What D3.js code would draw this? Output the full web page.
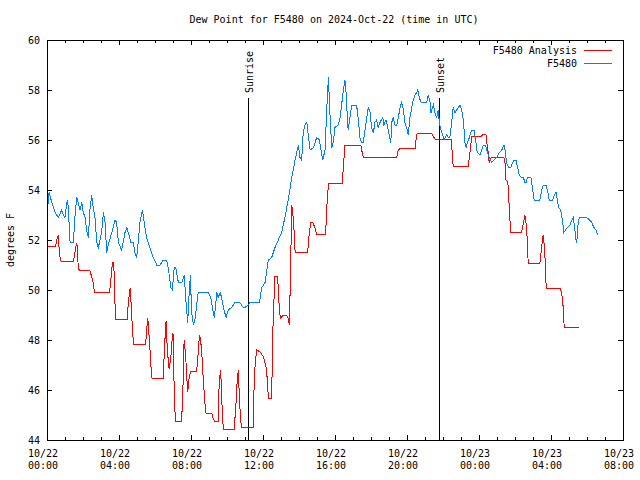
<!DOCTYPE html>
<html>
<head>
<meta charset="utf-8">
<script src="https://cdn.jsdelivr.net/npm/d3@7"></script>
<style>
html,body{margin:0;padding:0;background:#fff;}
svg{display:block;}
text{font-family:"DejaVu Sans Mono","Liberation Mono",monospace;font-size:10px;fill:#000;}
</style>
</head>
<body>
<svg id="chart" width="640" height="480"></svg>
<script>
// ---- data (minutes since 2024-10-22 00:00 UTC, degrees F) ----
const titleText = "Dew Point for F5480 on 2024-Oct-22 (time in UTC)";
const yLabel = "degrees F";
const seriesNames = ["F5480 Analysis", "F5480"];
const yTicks = [44, 46, 48, 50, 52, 54, 56, 58, 60];
const sunriseMin = 671;   // 11:11 UTC
const sunsetMin = 1308;   // 21:48 UTC

const stationMin = [0,7,16,27,38,49,54,60,66,69,73,77,88,93,99,104,110,116,121,127,132,138,143,149,154,160,166,171,177,182,188,193,199,204,216,227,232,238,249,260,266,271,280,288,293,299,304,310,318,324,332,343,354,366,377,388,399,404,413,418,424,429,436,440,449,458,462,469,473,478,482,488,493,504,538,546,554,558,566,571,577,582,588,597,604,616,627,643,654,660,671,677,708,716,727,734,738,749,760,771,782,793,804,816,827,838,843,849,854,860,866,871,877,888,899,908,916,919,927,932,938,943,949,954,960,971,977,982,988,993,997,1001,1004,1010,1016,1032,1038,1043,1049,1054,1060,1066,1071,1077,1082,1088,1093,1099,1104,1110,1119,1123,1130,1134,1141,1146,1149,1154,1160,1166,1171,1177,1182,1188,1193,1201,1204,1210,1216,1221,1227,1232,1236,1241,1247,1266,1271,1277,1280,1288,1293,1299,1304,1308,1313,1319,1324,1332,1338,1343,1349,1354,1360,1366,1371,1377,1382,1388,1393,1397,1401,1408,1412,1418,1424,1430,1434,1443,1449,1454,1462,1468,1474,1482,1491,1499,1508,1516,1523,1527,1532,1538,1546,1552,1557,1563,1569,1574,1582,1588,1593,1597,1601,1608,1613,1619,1624,1632,1643,1649,1654,1663,1668,1674,1686,1691,1697,1701,1706,1712,1718,1723,1728,1734,1743,1750,1754,1759,1763,1766,1769,1774,1799,1808,1816,1823,1830,1836];
const stationVal = [53.0,53.9,53.5,53.1,52.9,53.2,53.0,52.9,53.5,53.6,52.8,51.9,51.9,52.9,53.7,53.5,53.2,53.5,53.1,52.9,52.4,52.1,53.2,53.8,53.3,52.9,51.9,51.7,52.0,52.3,53.1,52.8,51.5,51.8,52.3,52.8,52.7,51.9,51.6,52.3,52.5,52.3,51.9,51.9,51.5,51.3,51.9,52.7,53.2,52.7,52.1,51.7,51.3,51.0,51.0,51.2,51.2,50.9,50.1,50.0,50.9,50.9,50.4,50.3,50.3,50.6,49.7,48.7,49.7,50.6,49.1,48.6,48.8,49.9,49.9,49.7,49.1,48.9,49.9,49.7,49.9,49.7,49.3,48.9,49.2,49.3,49.5,49.5,49.3,49.3,49.4,49.5,49.5,50.1,50.3,50.9,51.2,51.3,51.7,52.0,52.3,52.9,53.6,54.5,55.2,55.8,55.3,55.2,56.3,56.6,56.7,56.2,55.6,55.7,56.1,56.0,55.4,55.2,55.6,57.1,58.5,57.1,55.7,55.9,56.5,56.6,56.9,57.4,58.0,58.4,57.9,56.9,56.4,56.9,57.4,57.4,56.8,56.1,55.9,55.9,56.4,56.9,57.3,57.1,56.5,56.3,56.7,56.8,56.5,56.7,56.9,56.6,56.8,56.6,56.2,55.9,56.7,56.9,56.6,56.6,56.9,57.3,57.5,57.2,56.7,56.4,56.2,56.9,57.3,57.6,57.8,57.9,58.0,57.7,57.5,57.5,57.8,57.5,57.1,57.4,57.1,56.9,57.2,56.7,56.4,56.2,56.0,56.2,56.1,56.1,56.7,57.3,57.1,57.2,57.3,57.4,57.2,56.8,55.9,55.7,55.9,56.1,56.3,56.4,56.4,55.9,55.5,55.4,55.6,55.8,55.8,55.5,55.3,55.1,55.2,55.3,55.5,55.6,55.8,55.6,55.1,54.9,54.9,55.1,55.2,55.2,54.9,54.6,54.5,54.5,54.3,54.3,54.5,54.5,54.5,54.0,53.6,53.6,53.6,54.0,54.2,54.2,54.0,53.6,53.6,53.8,53.9,53.6,53.3,53.2,52.8,52.3,52.4,52.5,52.6,52.8,52.9,52.5,52.0,51.9,52.5,52.9,52.9,52.8,52.7,52.5,52.4,52.2];

const analysisMin = [0,29,32,38,40,43,47,88,91,96,99,101,104,108,143,149,154,158,208,211,216,220,223,226,227,229,268,271,277,280,286,289,329,332,336,339,343,347,350,388,391,397,401,407,413,417,420,423,426,428,448,451,454,457,461,465,467,469,472,474,479,499,504,508,512,516,521,527,530,549,554,560,571,574,579,582,586,589,624,630,634,638,641,646,649,688,690,694,699,710,721,730,734,738,749,752,757,760,768,771,774,778,788,799,804,808,812,816,819,821,824,827,869,873,879,886,893,899,929,932,936,939,984,988,993,1046,1049,1054,1166,1171,1177,1227,1230,1234,1282,1288,1294,1347,1351,1354,1404,1410,1416,1449,1454,1463,1468,1471,1474,1477,1482,1523,1527,1530,1536,1539,1542,1546,1582,1588,1593,1597,1601,1604,1643,1649,1654,1658,1661,1664,1712,1717,1721,1724,1774];
const analysisVal = [51.76,51.76,52.0,52.2,51.73,51.33,51.16,51.16,51.33,51.73,51.89,51.73,50.93,50.77,50.77,50.53,50.28,49.92,49.92,50.13,50.88,51.13,50.88,50.0,49.2,48.84,48.84,49.52,50.07,49.52,48.2,47.84,47.84,48.4,48.89,48.4,47.67,46.87,46.47,46.47,47.6,48.77,47.6,46.84,47.33,48.0,48.27,46.53,45.33,44.73,44.73,45.33,46.4,48.0,47.53,46.8,46.27,45.93,46.27,46.53,46.76,46.76,47.47,48.2,48.0,47.47,46.4,45.4,45.07,45.07,44.87,44.73,44.73,46.4,46.8,45.73,44.73,44.43,44.43,45.47,46.4,46.8,45.73,44.73,44.49,44.49,46.0,47.07,47.6,47.53,47.33,46.93,46.47,45.67,45.67,48.13,49.73,50.54,50.54,50.13,49.33,48.87,49.0,49.0,48.87,48.6,50.93,53.4,53.13,52.8,52.28,51.52,51.52,52.12,52.72,52.72,52.48,52.24,52.24,53.2,53.93,54.27,54.27,54.92,55.8,55.8,55.6,55.31,55.31,55.6,55.67,55.67,56.0,56.27,56.27,56.13,56.03,56.03,55.47,54.93,54.92,55.53,56.16,56.16,56.23,56.23,55.73,55.47,55.07,55.2,55.31,55.31,55.07,54.4,54.33,53.73,53.0,52.31,52.31,52.67,53.0,52.67,52.0,51.07,51.07,51.73,52.2,51.73,51.07,50.07,50.07,49.73,49.27,48.51,48.51];

// ---- setup ----
const START = Date.UTC(2024, 9, 22, 0, 0);
const toDate = m => new Date(START + m * 60000);
const analysis = analysisMin.map((m, i) => ({t: toDate(m), v: analysisVal[i]}));
const station = stationMin.map((m, i) => ({t: toDate(m), v: stationVal[i]}));

const L = 47, R = 623, T = 40, B = 440;
const svg = d3.select("#chart");
const x = d3.scaleUtc().domain([toDate(0), toDate(32 * 60)]).range([L, R]);
const y = d3.scaleLinear().domain([44, 60]).range([B, T]);

const hourTicks = d3.utcHour.every(1).range(toDate(0), toDate(32 * 60 + 1));
const majorTicks = d3.utcHour.every(4).range(toDate(0), toDate(32 * 60 + 1));

function styleAxis(g) {
  g.select(".domain").remove();
  g.selectAll("line").attr("stroke", "#000").attr("shape-rendering", "crispEdges");
  g.selectAll("text").remove();
}
// minor ticks (hourly), bottom & top
svg.append("g").attr("transform", `translate(0,${B})`)
  .call(d3.axisBottom(x).tickValues(hourTicks).tickSize(-3).tickFormat("")).call(styleAxis);
svg.append("g").attr("transform", `translate(0,${T})`)
  .call(d3.axisTop(x).tickValues(hourTicks).tickSize(-3).tickFormat("")).call(styleAxis);
// major ticks
svg.append("g").attr("transform", `translate(0,${B})`)
  .call(d3.axisBottom(x).tickValues(majorTicks).tickSize(-5).tickFormat("")).call(styleAxis);
svg.append("g").attr("transform", `translate(0,${T})`)
  .call(d3.axisTop(x).tickValues(majorTicks).tickSize(-5).tickFormat("")).call(styleAxis);
// y ticks left & right
svg.append("g").attr("transform", `translate(${L},0)`)
  .call(d3.axisLeft(y).tickValues(yTicks).tickSize(-5).tickFormat("")).call(styleAxis);
svg.append("g").attr("transform", `translate(${R},0)`)
  .call(d3.axisRight(y).tickValues(yTicks).tickSize(-5).tickFormat("")).call(styleAxis);

// y tick labels
svg.append("g").selectAll("text").data(yTicks).join("text")
  .attr("x", L - 7).attr("y", d => y(d)).attr("dy", "0.35em")
  .attr("text-anchor", "end").text(d => d);

// x tick labels
const fmtD = d3.utcFormat("%m/%d"), fmtT = d3.utcFormat("%H:%M");
const xl = svg.append("g").selectAll("text").data(majorTicks).join("text")
  .attr("text-anchor", "middle");
xl.append("tspan").attr("x", d => x(d) - 4).attr("y", 457).text(fmtD);
xl.append("tspan").attr("x", d => x(d) - 4).attr("y", 469).text(fmtT);

// sunrise / sunset
[[sunriseMin, "Sunrise"], [sunsetMin, "Sunset"]].forEach(([m, lab]) => {
  const xs = Math.round(x(toDate(m))) + 0.5;
  svg.append("line").attr("x1", xs).attr("x2", xs).attr("y1", 98).attr("y2", B)
    .attr("stroke", "#000").attr("shape-rendering", "crispEdges");
  svg.append("text").attr("transform", `translate(${xs + 4},93) rotate(-90)`)
    .attr("text-anchor", "start").text(lab);
});

// data lines
const line = d3.line().x(d => x(d.t)).y(d => y(d.v));
svg.append("path").datum(analysis).attr("d", line)
  .attr("fill", "none").attr("stroke", "#ff0000").attr("stroke-width", 1)
  .attr("shape-rendering", "crispEdges");
svg.append("path").datum(station).attr("d", line)
  .attr("fill", "none").attr("stroke", "#0080ff").attr("stroke-width", 1)
  .attr("shape-rendering", "crispEdges");

// frame
svg.append("rect").attr("x", L + 0.5).attr("y", T + 0.5).attr("width", R - L).attr("height", B - T)
  .attr("fill", "none").attr("stroke", "#000").attr("shape-rendering", "crispEdges");

// legend
const legColors = ["#ff0000", "#0080ff"];
seriesNames.forEach((n, i) => {
  const ly = 50 + i * 13;
  svg.append("text").attr("x", 577).attr("y", ly).attr("dy", "0.35em")
    .attr("text-anchor", "end").text(n);
  svg.append("line").attr("x1", 584).attr("x2", 612).attr("y1", ly + 0.5).attr("y2", ly + 0.5)
    .attr("stroke", legColors[i]).attr("shape-rendering", "crispEdges");
});

// title & y label
svg.append("text").attr("x", 334).attr("y", 23).attr("text-anchor", "middle").text(titleText);
svg.append("text").attr("transform", "translate(14,240) rotate(-90)")
  .attr("text-anchor", "middle").text(yLabel);
</script>
</body>
</html>
